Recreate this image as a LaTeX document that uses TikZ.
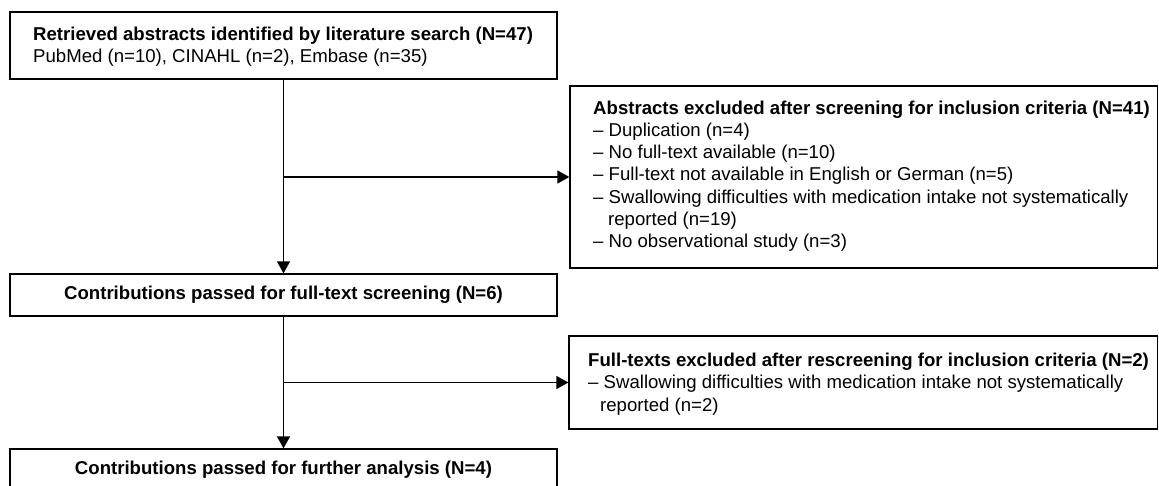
\documentclass[tikz,border=0pt]{standalone}
\usepackage{fontspec}
\setmainfont{Liberation Sans}
\usetikzlibrary{arrows.meta,calc}
\begin{document}
\begin{tikzpicture}[x=1pt,y=-1pt,
  box/.style={draw, line width=1.3pt, inner sep=0pt, rectangle},
  lbl/.style={inner sep=0pt, align=left, anchor=west, font=\fontsize{18.6}{22.2}\selectfont},
  ctr/.style={font=\fontsize{18.6}{22.2}\selectfont\bfseries},
  arr/.style={line width=1.4pt, -{Triangle[length=12pt,width=13pt]}}]
\useasboundingbox (0,0) rectangle (1159,485);
% boxes
\node[box, minimum width=547pt, minimum height=67pt] (b1) at (283.5,45.5) {};
\node[box, minimum width=587.5pt, minimum height=182pt] (b2) at (863.75,177) {};
\node[box, ctr, minimum width=547pt, minimum height=42pt] (b3) at (283.5,295) {Contributions passed for full-text screening (N=6)};
\node[box, minimum width=588.5pt, minimum height=93pt] (b4) at (863.25,382.5) {};
\node[box, ctr, minimum width=547pt, minimum height=42pt] (b5) at (283.5,470) {Contributions passed for further analysis (N=4)};
% texts
\node[lbl] (t1) at (33,47) {\textbf{Retrieved abstracts identified by literature search (N=47)}\\PubMed (n=10), CINAHL (n=2), Embase (n=35)};
\node[lbl] (t2) at (593,176) {\textbf{Abstracts excluded after screening for inclusion criteria (N=41)}\\
– Duplication (n=4)\\
– No full-text available (n=10)\\
– Full-text not available in English or German (n=5)\\
– Swallowing difficulties with medication intake not systematically\\
\hspace*{15pt}reported (n=19)\\
– No observational study (n=3)};
\node[lbl] (t4) at (588,384) {\textbf{Full-texts excluded after rescreening for inclusion criteria (N=2)}\\
– Swallowing difficulties with medication intake not systematically\\
\hspace*{12pt}reported (n=2)};
% connectors
\coordinate (j1) at (b1.south |- b2.west);
\coordinate (j2) at (b3.south |- b4.west);
\draw[arr] (b1.south) -- (b3.north);
\draw[arr] (j1) -- (b2.west);
\draw[arr] (b3.south) -- (b5.north);
\draw[arr] (j2) -- (b4.west);
\end{tikzpicture}
\end{document}
